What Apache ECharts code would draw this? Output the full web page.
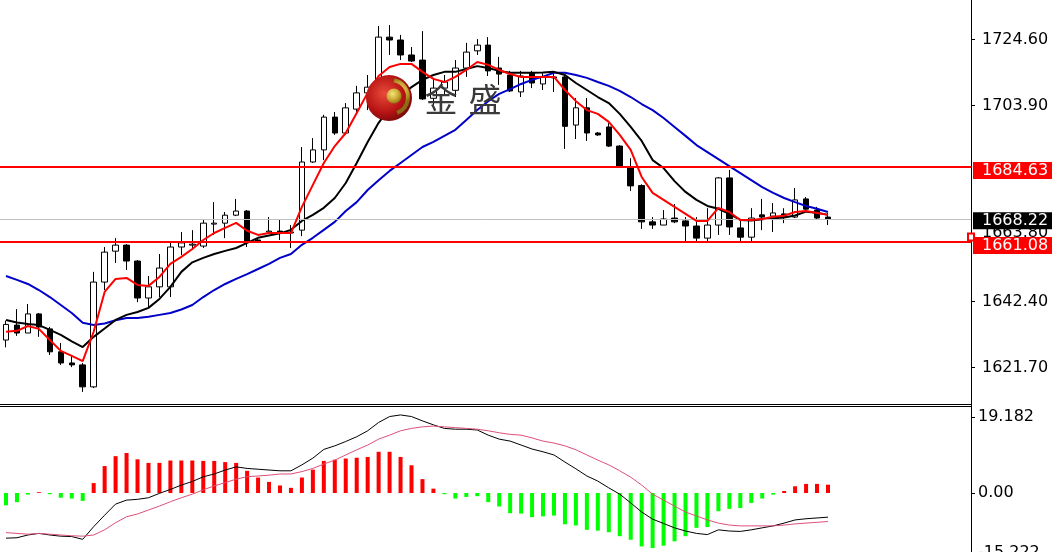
<!DOCTYPE html>
<html><head><meta charset="utf-8">
<script src="https://cdn.jsdelivr.net/npm/echarts@6/dist/echarts.min.js"></script>
<style>html,body{margin:0;padding:0;background:#fff}#c{width:1052px;height:552px}</style>
</head><body><div id="c"></div>
<script>
// ---- data ----
const opens = [1630.3,1635.0,1632.5,1638.5,1633.8,1626.6,1623.1,1622.5,1615.6,1648.5,
1658.2,1660.1,1655.1,1643.5,1647.0,1647.0,1659.5,1660.1,1659.8,1666.7,
1667.0,1669.5,1670.8,1661.7,1664.2,1664.5,1663.9,1664.8,1686.2,1690.0,
1700.3,1695.3,1702.8,1707.9,1709.7,1725.4,1724.5,1719.8,1718.2,1706.2,
1709.4,1708.7,1715.7,1721.1,1722.9,1715.7,1713.5,1708.2,1714.1,1710.7,
1712.9,1712.9,1697.8,1703.2,1695.3,1697.2,1691.2,1684.6,1678.8,1667.4,
1666.4,1668.6,1667.7,1666.1,1662.3,1666.4,1681.2,1665.5,1662.6,1669.6,
1669.2,1669.9,1668.9,1674.6,1671.1,1668.9];
const closes = [1635.2,1632.5,1638.5,1634.4,1626.6,1623.1,1622.5,1615.6,1648.5,1657.9,
1660.1,1655.1,1643.5,1647.0,1652.9,1659.5,1660.8,1660.4,1667.0,1667.0,
1669.5,1670.8,1661.1,1661.1,1664.5,1664.2,1664.2,1686.2,1690.0,1700.3,
1695.3,1703.2,1707.9,1709.7,1725.4,1724.5,1719.8,1717.9,1706.0,1709.4,
1711.3,1715.7,1720.7,1722.9,1714.8,1713.8,1708.5,1713.2,1711.0,1712.9,
1712.6,1697.4,1703.2,1695.3,1694.7,1691.2,1684.6,1678.7,1667.4,1666.4,
1668.3,1667.4,1666.1,1662.3,1666.4,1681.2,1665.8,1662.6,1668.6,1668.9,
1670.2,1668.9,1674.3,1671.4,1668.6,1668.22];
const lows = [1628.0,1631.6,1632.5,1631.3,1625.6,1622.5,1621.8,1614.0,1615.2,1646.0,
1654.5,1652.3,1642.2,1640.7,1643.8,1643.8,1657.0,1658.6,1659.2,1663.3,
1662.3,1669.2,1659.5,1660.8,1663.9,1661.7,1659.2,1662.9,1685.9,1686.8,
1694.7,1694.7,1701.3,1702.5,1705.7,1719.8,1718.2,1717.6,1705.7,1704.1,
1707.2,1706.6,1712.9,1719.8,1713.2,1710.4,1708.2,1706.6,1709.4,1708.8,
1708.2,1690.3,1693.4,1692.8,1694.4,1690.9,1684.3,1677.1,1665.2,1665.2,
1666.4,1667.0,1660.8,1661.1,1661.1,1663.3,1663.3,1660.8,1660.8,1664.8,
1664.2,1667.0,1668.6,1671.1,1668.3,1666.4];
const highs = [1636.4,1640.0,1641.6,1638.8,1634.4,1629.4,1625.6,1623.1,1651.7,1659.5,
1662.3,1660.4,1655.4,1650.4,1657.3,1661.1,1664.2,1664.8,1668.0,1673.6,
1670.5,1674.6,1671.1,1662.0,1668.9,1668.0,1666.4,1690.9,1693.7,1701.0,
1701.9,1704.7,1710.1,1713.5,1728.9,1729.2,1726.1,1722.3,1727.3,1712.6,
1713.5,1718.2,1723.6,1724.8,1725.4,1719.2,1714.8,1714.8,1714.8,1714.1,
1714.1,1713.5,1706.3,1706.3,1695.6,1698.4,1691.5,1687.4,1679.2,1668.9,
1671.1,1673.0,1668.9,1668.9,1671.7,1681.5,1683.7,1667.7,1671.7,1674.6,
1673.3,1671.7,1678.0,1675.2,1672.1,1670.2];
const maFast = [1632.9,1633.2,1634.7,1633.8,1630.3,1626.9,1625.3,1623.7,1632.9,1645.4,
1649.5,1649.8,1647.6,1647.3,1650.1,1654.2,1656.4,1658.9,1661.7,1663.9,
1665.5,1667.1,1664.6,1663.3,1663.9,1663.9,1663.9,1672.1,1679.0,1685.9,
1691.2,1695.3,1701.6,1707.9,1713.2,1716.0,1717.0,1717.0,1714.5,1712.3,
1711.3,1712.9,1715.1,1717.6,1716.7,1715.1,1713.8,1712.9,1712.9,1712.9,
1712.9,1708.8,1705.3,1702.5,1701.3,1698.8,1694.7,1690.0,1681.5,1676.5,
1674.3,1672.1,1669.9,1667.7,1667.7,1671.8,1670.5,1668.0,1668.0,1668.3,
1669.0,1669.3,1670.5,1670.8,1670.2,1669.6];
const maMid = [1636.6,1635.8,1635.3,1635.0,1633.5,1631.9,1629.9,1628.1,1631.3,1633.9,
1636.6,1638.2,1639.1,1640.4,1643.2,1647.0,1651.7,1654.7,1656.1,1657.3,
1658.3,1659.2,1660.8,1662.4,1663.1,1663.8,1664.9,1667.7,1669.6,1671.8,
1674.9,1679.6,1685.9,1692.5,1698.5,1703.2,1707.2,1709.7,1712.0,1713.5,
1714.5,1714.5,1715.4,1716.3,1715.7,1714.8,1714.2,1714.2,1714.2,1714.3,
1714.5,1713.5,1711.0,1708.8,1706.6,1704.7,1701.3,1697.2,1692.8,1686.8,
1684.3,1680.2,1676.8,1674.3,1672.4,1671.5,1669.9,1668.0,1667.8,1668.2,
1668.5,1668.8,1669.4,1670.6,1670.3,1669.6];
const maSlow = [1650.4,1649.2,1647.9,1646.0,1643.8,1641.3,1638.8,1635.7,1635.0,1635.5,
1636.5,1637.2,1637.2,1637.6,1638.2,1638.8,1639.9,1641.3,1643.8,1646.0,
1647.9,1649.5,1651.0,1652.6,1654.2,1656.1,1657.3,1660.2,1662.4,1664.9,
1667.4,1670.8,1673.6,1677.4,1680.5,1683.4,1685.9,1688.4,1690.9,1692.5,
1694.4,1696.3,1699.4,1702.5,1705.3,1707.6,1709.1,1710.7,1712.0,1713.0,
1714.2,1714.2,1713.5,1712.6,1711.3,1710.1,1708.5,1706.6,1704.4,1702.5,
1700.0,1697.2,1694.4,1691.5,1689.3,1687.1,1684.9,1682.7,1680.5,1678.3,
1676.5,1674.9,1673.6,1672.4,1671.5,1670.5];
const macdHist = [-3.1,-2.3,-0.4,0.2,-0.3,-1.2,-1.4,-2.0,2.5,6.8,
9.3,10.1,8.5,7.6,7.6,8.2,8.2,8.2,8.1,8.1,
7.8,7.6,5.6,3.9,2.8,1.9,1.3,3.9,5.9,8.1,
8.4,8.7,8.9,9.1,10.4,10.4,9.1,7.0,3.5,1.1,
-0.3,-1.4,-1.0,-0.8,-2.3,-3.4,-5.1,-5.2,-6.1,-5.9,
-5.7,-7.9,-8.2,-9.3,-9.5,-9.9,-10.9,-11.8,-13.5,-13.9,
-13.3,-12.2,-10.9,-8.8,-8.6,-4.6,-4.0,-3.8,-2.5,-1.4,
-0.4,0.5,1.7,2.3,2.3,2.1];
const macdLine = [-11.4,-11.3,-10.6,-10.2,-10.6,-10.9,-11.0,-11.7,-8.5,-5.6,
-2.8,-1.8,-1.6,-1.2,-0.1,0.9,2.0,2.9,4.1,4.8,
5.8,6.6,6.2,6.0,5.8,5.6,5.6,7.1,8.8,11.0,
11.9,13.0,14.2,15.7,17.8,19.3,19.7,19.3,18.2,17.2,
16.3,16.1,16.1,15.9,14.6,13.6,13.1,12.1,11.1,10.4,
9.6,7.8,6.1,4.3,3.0,1.3,-0.3,-2.5,-4.8,-6.6,
-7.7,-8.8,-9.6,-10.2,-10.5,-9.3,-9.6,-9.7,-9.3,-8.8,
-8.3,-7.6,-6.8,-6.5,-6.3,-6.1];
const signalLine = [-10.0,-10.2,-10.4,-10.2,-10.4,-10.6,-10.8,-10.9,-10.6,-9.3,
-7.5,-6.0,-5.3,-4.3,-3.3,-2.2,-1.2,-0.3,0.8,1.8,
2.6,3.5,4.1,4.3,4.5,4.8,4.8,5.4,6.2,7.3,
8.3,9.6,10.9,12.1,13.6,14.6,15.7,16.3,16.7,16.9,
16.7,16.5,16.3,16.1,15.7,15.2,14.8,14.6,13.9,13.1,
12.6,11.9,10.9,9.6,8.3,7.1,5.6,4.0,2.0,-0.3,
-1.8,-3.3,-4.8,-5.8,-6.8,-7.6,-8.1,-8.3,-8.3,-8.3,
-8.3,-8.1,-7.8,-7.6,-7.4,-7.2];
const priceTicks = [1621.70, 1642.40, 1663.80, 1703.90, 1724.60];
const macdTicks = [19.182, 0, -15.222];
const levelHigh = 1684.63;
const levelLow = 1661.08;
const lastPrice = 1668.22;

// ---- chart ----
const chart = echarts.init(document.getElementById('c'), null, {renderer: 'canvas'});
const FONT = 'DejaVu Sans';
const pts = arr => arr.map((v, i) => [i, v]);
const xAxisBase = {type: 'value', min: -0.547, max: 88.05, show: false, splitLine: {show: false}};

const option = {
  animation: false,
  backgroundColor: '#ffffff',
  grid: [
    {left: 0, top: 0, width: 971, height: 403, containLabel: false, outerBoundsMode: 'none'},
    {left: 0, top: 407, width: 971, height: 146.3, containLabel: false, outerBoundsMode: 'none'}
  ],
  xAxis: [
    Object.assign({gridIndex: 0}, xAxisBase),
    Object.assign({gridIndex: 1}, xAxisBase)
  ],
  yAxis: [
    {type: 'value', gridIndex: 0, position: 'right', min: 1610.53, max: 1737.06,
     splitLine: {show: false}, axisLine: {show: true, onZero: false, lineStyle: {color: '#000', width: 1}},
     axisTick: {show: true, inside: false, length: 4, lineStyle: {color: '#000'}, customValues: priceTicks},
     axisLabel: {customValues: priceTicks, formatter: v => v.toFixed(2), color: '#000',
                 fontSize: 16, fontFamily: FONT, margin: 11}},
    {type: 'value', gridIndex: 1, position: 'right', min: -15.222, max: 21.706,
     splitLine: {show: false}, axisLine: {show: true, onZero: false, lineStyle: {color: '#000', width: 1}},
     axisTick: {show: true, inside: false, length: 4, lineStyle: {color: '#000'}, customValues: macdTicks},
     axisLabel: {customValues: macdTicks, formatter: v => v === 0 ? '0.00' : v.toFixed(3), color: '#000',
                 fontSize: 16, fontFamily: FONT, margin: 7}}
  ],
  series: [
    {type: 'candlestick', xAxisIndex: 0, yAxisIndex: 0,
     data: opens.map((o, i) => [i, o, closes[i], lows[i], highs[i]]),
     encode: {x: 0, y: [1, 2, 3, 4]},
     barWidth: 6, z: 3, silent: true,
     itemStyle: {color: '#ffffff', color0: '#000000', borderColor: '#000000', borderColor0: '#000000',
                 borderColorDoji: '#000000', borderWidth: 1},
     markLine: {silent: true, symbol: 'none', animation: false, label: {show: false},
       data: [
         {yAxis: lastPrice, lineStyle: {color: '#c0c0c0', width: 1, type: 'solid'}},
         {yAxis: levelHigh, lineStyle: {color: '#ff0000', width: 2, type: 'solid'}}
       ]}
    },
    {type: 'line', xAxisIndex: 0, yAxisIndex: 0, data: pts(maSlow), symbol: 'none', z: 4, silent: true,
     lineStyle: {color: '#0000c8', width: 2},
     markLine: {silent: true, animation: false, symbol: ['none', 'emptyRect'], symbolSize: [7, 6],
       symbolOffset: [[0, 0], [-5, 0]], label: {show: false},
       data: [{yAxis: levelLow, lineStyle: {color: '#ff0000', width: 2, type: 'solid'}}]}
    },
    {type: 'line', xAxisIndex: 0, yAxisIndex: 0, data: pts(maMid), symbol: 'none', z: 4, silent: true,
     lineStyle: {color: '#000000', width: 2}},
    {type: 'line', xAxisIndex: 0, yAxisIndex: 0, data: pts(maFast), symbol: 'none', z: 5, silent: true,
     lineStyle: {color: '#ff0000', width: 2}},
    {type: 'bar', xAxisIndex: 1, yAxisIndex: 1, data: pts(macdHist), barWidth: 4, silent: true,
     itemStyle: {color: p => (p.value[1] >= 0 ? '#ff0000' : '#00ff00')}},
    {type: 'line', xAxisIndex: 1, yAxisIndex: 1, data: pts(macdLine), symbol: 'none', z: 4, silent: true,
     lineStyle: {color: '#000000', width: 1}},
    {type: 'line', xAxisIndex: 1, yAxisIndex: 1, data: pts(signalLine), symbol: 'none', z: 4, silent: true,
     lineStyle: {color: '#dc5078', width: 1}}
  ]
};
chart.setOption(option);

// right-hand price boxes positioned through the axis scale
const py = v => chart.convertToPixel({yAxisIndex: 0}, v);
function priceBox(v, bg, dy) {
  const y = py(v);
  return [
    {type: 'rect', z: 200, shape: {x: 973, y: y + dy, width: 90, height: 17}, style: {fill: bg}},
    {type: 'text', z: 201, x: 982, y: y + dy + 9,
     style: {text: v.toFixed(2), fill: '#ffffff', font: '16px "DejaVu Sans"', verticalAlign: 'middle', align: 'left'}}
  ];
}
const gold = new echarts.graphic.RadialGradient(0.4, 0.35, 0.7, [
  {offset: 0, color: '#f6e27a'}, {offset: 0.6, color: '#c9a632'}, {offset: 1, color: '#8a6d14'}]);
const redBall = new echarts.graphic.RadialGradient(0.4, 0.4, 0.75, [
  {offset: 0, color: '#e84a3a'}, {offset: 0.55, color: '#b81414'}, {offset: 1, color: '#5e0404'}]);
const graphics = [].concat(
  [
    {type: 'line', z: 150, shape: {x1: 971.5, y1: 400, x2: 971.5, y2: 410}, style: {stroke: '#000', lineWidth: 1}},
    {type: 'line', z: 150, shape: {x1: 0, y1: 404.5, x2: 972, y2: 404.5}, style: {stroke: '#000', lineWidth: 1}},
    {type: 'line', z: 150, shape: {x1: 0, y1: 406.5, x2: 972, y2: 406.5}, style: {stroke: '#000', lineWidth: 1}},
    // watermark logo
    {type: 'circle', z: 120, shape: {cx: 389, cy: 98, r: 23}, style: {fill: redBall}},
    {type: 'arc', z: 121, shape: {cx: 391, cy: 97, r: 17, startAngle: -1.4, endAngle: 1.2}, style: {stroke: gold, lineWidth: 4, fill: null}},
    {type: 'circle', z: 122, shape: {cx: 394, cy: 96, r: 7.5}, style: {fill: gold}},
    {type: 'text', z: 120, x: 441, y: 99, style: {text: '金', fill: '#3a3a3a', font: '33px "Noto Sans CJK SC"', align: 'center', verticalAlign: 'middle'}},
    {type: 'text', z: 120, x: 485, y: 99, style: {text: '盛', fill: '#3a3a3a', font: '33px "Noto Sans CJK SC"', align: 'center', verticalAlign: 'middle'}}
  ],
  priceBox(levelHigh, '#ff0000', -5),
  priceBox(lastPrice, '#000000', -7),
  priceBox(levelLow, '#ff0000', -5)
);
chart.setOption({graphic: graphics});
</script></body></html>
